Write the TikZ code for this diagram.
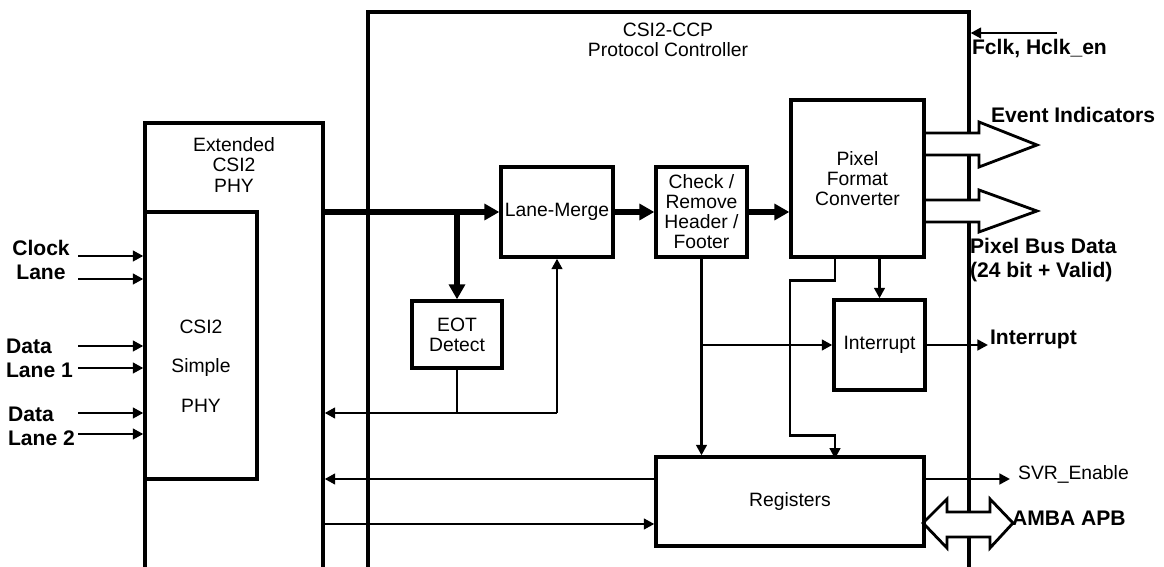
\documentclass[tikz,border=0pt]{standalone}
\usepackage{fontspec}
\setmainfont{Liberation Sans}
\usetikzlibrary{arrows.meta,positioning}

\begin{document}
\begin{tikzpicture}[x=0.02cm, y=-0.02cm,
  box/.style={draw, line width=1.9pt, align=center, inner sep=1pt,
              font=\fontsize{11}{11.4}\selectfont},
  lbl/.style={font=\fontsize{11}{11.4}\selectfont, align=center},
  pin/.style={font=\bfseries\fontsize{12}{13.7}\selectfont, align=left, inner sep=1pt},
  wire/.style={line width=1.6pt, -{Triangle[length=6pt,width=6pt]}},
  bus/.style={line width=3.2pt, -{Triangle[length=8.5pt,width=9pt]}},
  fat/.style={line width=1.6pt, fill=white, line join=miter}
]
  \useasboundingbox (0,0) rectangle (1164,567);
  \clip (0,0) rectangle (1164,567);

  \node[box, minimum width=12.02cm, minimum height=12.16cm] (ccp) at (668.5,316) {};
  \node[lbl] (ccpl) at (668,40) {CSI2-CCP\\Protocol Controller};

  \filldraw[fat] (924,133) -- (979,133) -- (979,122) -- (1037,145) -- (979,167) -- (979,155) -- (924,155);
  \filldraw[fat] (924,200) -- (979,200) -- (979,190) -- (1037,211) -- (979,232) -- (979,222) -- (924,222);
  \filldraw[fat] (923,523) -- (947,499) -- (947,512) -- (990,512) -- (990,499) -- (1013,523)
                 -- (990,548) -- (990,537) -- (947,537) -- (947,548) -- cycle;

  \node[box, minimum width=3.56cm, minimum height=9.94cm] (phy)  at (234,371.5) {};
  \node[lbl] (phyl) at (234,165) {Extended\\CSI2\\PHY};
  \node[box, minimum width=2.24cm, minimum height=5.34cm] (sphy) at (201,345.5) {};
  \node[lbl] (sphyl) at (201,366) {CSI2\\[11pt]Simple\\[11pt]PHY};

  \node[box, minimum width=2.24cm, minimum height=1.8cm]  (lm)   at (557,212) {Lane-Merge};
  \node[box, minimum width=1.82cm, minimum height=1.8cm]  (chk)  at (701.5,212) {Check /\\Remove\\Header /\\Footer};
  \node[box, minimum width=2.66cm, minimum height=3.14cm] (pfc)  at (857.5,178.5) {Pixel\\Format\\Converter};
  \node[box, minimum width=1.8cm,  minimum height=1.34cm] (eot)  at (457,334.5) {EOT\\Detect};
  \node[box, minimum width=1.82cm, minimum height=1.8cm]  (intr) at (879.5,345) {Interrupt};
  \node[box, minimum width=5.36cm, minimum height=1.78cm] (reg)  at (790,501.5) {Registers};

  \node[pin, align=center] (clk) at (41,260) {Clock\\Lane};
  \node[pin, anchor=west]  (dl1) at (4,358) {Data\\Lane 1};
  \node[pin, anchor=west]  (dl2) at (6,426) {Data\\Lane 2};
  \foreach \y [count=\i] in {256,279,346,368,413,434}{
    \coordinate (in\i) at (78,\y);
    \draw[wire] (in\i) -- (in\i -| sphy.west);
  }

  \draw[bus] (lm.west -| phy.east) -- (lm.west);
  \draw[bus] (eot.north |- lm.west) -- (eot.north);
  \draw[bus] (lm.east) -- (chk.west);
  \draw[bus] (chk.east) -- (chk.east -| pfc.west);

  \coordinate (fb) at (557,413);
  \draw[line width=1.6pt] (eot.south) -- (eot.south |- fb);
  \draw[wire] (fb) -- (lm.south);
  \draw[wire] (fb) -- (fb -| phy.east);

  \draw[wire] (chk.south) -- (chk.south |- reg.north);
  \draw[wire] (chk.south |- intr.west) -- (intr.west);
  \draw[wire] (pfc.south -| intr.north) -- (intr.north);
  \draw[wire] ([xshift=-0.45cm]pfc.south) -- ++(0,22) -- ++(-45,0) -- ++(0,155) -- ++(45,0) -- ++(0,23);

  \coordinate (rout) at ([yshift=0.45cm]reg.west);
  \coordinate (rin)  at ([yshift=-0.45cm]reg.west);
  \draw[wire] (rout) -- (rout -| phy.east);
  \draw[wire] (rin -| phy.east) -- (rin);

  \node[pin, anchor=west] (fckl) at (970,48) {Fclk, Hclk\_en};
  \coordinate (fck) at (1057,33);
  \draw[wire] (fck) -- (fck -| ccp.east);

  \node[pin, anchor=west] (evl) at (989,115) {Event Indicators};
  \node[pin, anchor=west] (pbl) at (968,260) {Pixel Bus Data\\(24 bit + Valid)};

  \node[pin, anchor=west] (intl) at (988,339) {Interrupt};
  \draw[wire] (intr.east) -- (intr.east -| intl.west);

  \node[anchor=west, inner sep=1pt, font=\fontsize{11}{11.4}\selectfont] (svr) at (1016,474) {SVR\_Enable};
  \coordinate (svre) at (1010,479);
  \draw[wire] (reg.east |- svre) -- (svre);

  \node[pin, anchor=west] (apb) at (1010,518) {AMBA APB};
\end{tikzpicture}
\end{document}
